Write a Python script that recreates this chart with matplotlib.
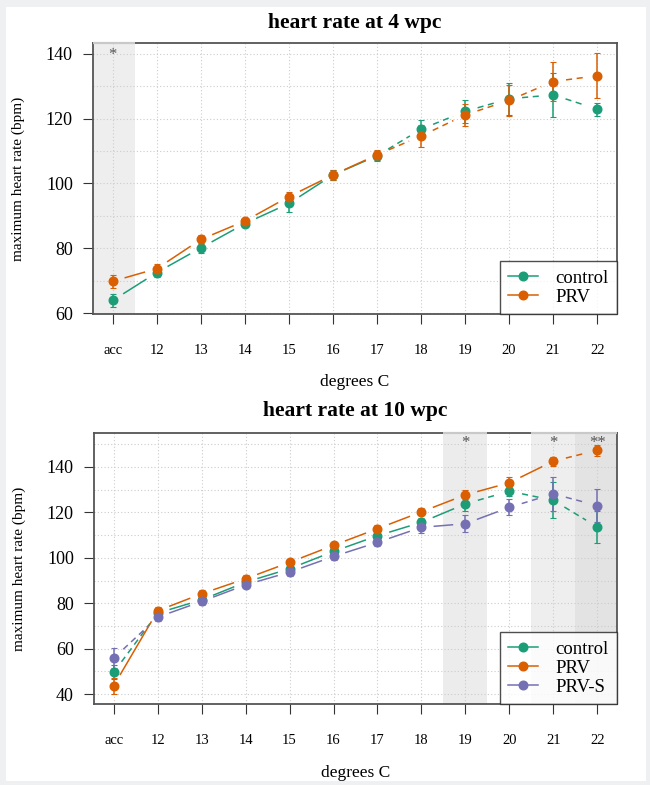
import numpy as np
import matplotlib
matplotlib.use("Agg")
from matplotlib import pyplot as plt
from matplotlib.lines import Line2D
from matplotlib.patches import Rectangle

plt.rcParams['font.family'] = ['Liberation Serif', 'DejaVu Serif']

temps = ["acc", "12", "13", "14", "15", "16", "17", "18", "19", "20", "21", "22"]

# heart rate at 4 wpc
ctrl4 = [63.9, 72.5, 80.1, 87.6, 93.8, 102.6, 108.5, 116.7, 122.2, 126.1, 127.3, 122.9]
ctrl4_err = [2.0, 1.5, 1.5, 1.0, 2.5, 1.5, 1.5, 3.0, 3.6, 5.0, 6.8, 2.0]
prv4 = [69.8, 73.7, 82.7, 88.4, 95.9, 102.6, 108.8, 114.6, 121.1, 125.6, 131.4, 133.2]
prv4_err = [2.0, 1.5, 1.5, 1.0, 1.5, 1.5, 1.5, 3.3, 3.3, 4.8, 6.0, 7.0]
stars4 = {0: "*"}

# heart rate at 10 wpc
ctrl10 = [49.7, 75.7, 81.5, 89.3, 95.2, 102.8, 109.7, 115.6, 123.7, 129.3, 125.3, 113.6]
ctrl10_err = [3.0, 1.5, 1.5, 1.5, 1.5, 1.5, 1.5, 2.0, 3.0, 2.0, 8.0, 7.0]
prv10 = [43.8, 76.7, 84.2, 90.8, 98.0, 105.5, 112.8, 120.2, 127.7, 133.0, 142.5, 147.3]
prv10_err = [3.5, 1.5, 1.5, 1.5, 1.5, 1.5, 1.5, 1.5, 2.0, 2.5, 2.0, 2.5]
prvs10 = [55.9, 73.9, 80.8, 88.1, 93.7, 100.6, 106.8, 113.4, 115.0, 122.2, 128.1, 123.0]
prvs10_err = [4.5, 1.5, 1.5, 1.5, 1.5, 1.5, 1.5, 2.5, 3.8, 3.5, 7.3, 7.3]
stars10 = {8: "*", 10: "*", 11: "**"}

GREEN, ORANGE, PURPLE = "#1b9e77", "#d95f02", "#7570b3"

# segment line styles (solid / dashed) between consecutive points
top_styles = {"control": ["-"] * 6 + ["--"] * 5, "PRV": ["-"] * 6 + ["--"] * 5}
bot_styles = {"control": ["--"] + ["-"] * 7 + ["--"] * 3,
              "PRV": ["-"] * 10 + ["--"],
              "PRV-S": ["--"] + ["-"] * 8 + ["--"] * 2}

W, H = 650, 785
fig = plt.figure(figsize=(W / 100, H / 100), dpi=100, facecolor="#eef0f1")
fig.patches.append(Rectangle((6 / W, 4 / H), 640 / W, 774 / H, transform=fig.transFigure,
                             facecolor="white", edgecolor="none", zorder=-10))

ax1 = fig.add_axes([93 / W, 1 - 314 / H, 524 / W, 271 / H])
ax2 = fig.add_axes([94 / W, 1 - 704 / H, 523 / W, 271 / H])
AX_PX = (524, 271)


def draw_series(ax, y, err, color, styles, gap=13):
    x = np.arange(len(y), dtype=float)
    y = np.asarray(y, dtype=float)
    ax.errorbar(x, y, yerr=err, fmt="none", ecolor=color, elinewidth=1.1,
                capsize=2, capthick=0.8, zorder=3)
    ax.plot(x, y, "o", color=color, ms=6.2, zorder=4)
    # R type="b": leave a gap around each point
    x0, x1 = ax.get_xlim()
    y0, y1 = ax.get_ylim()
    sx = AX_PX[0] / (x1 - x0)
    sy = AX_PX[1] / (y1 - y0)
    for i in range(len(y) - 1):
        dx = (x[i + 1] - x[i]) * sx
        dy = (y[i + 1] - y[i]) * sy
        L = np.hypot(dx, dy)
        if L <= 2 * gap:
            continue
        f = gap / L
        xs = [x[i] + f * (x[i + 1] - x[i]), x[i + 1] - f * (x[i + 1] - x[i])]
        ys = [y[i] + f * (y[i + 1] - y[i]), y[i + 1] - f * (y[i + 1] - y[i])]
        line, = ax.plot(xs, ys, color=color, lw=1.1, zorder=3)
        if styles[i] == "--":
            line.set_dashes([4, 3])


def setup(ax, ylim, yticks, shades):
    ax.set_xlim(-0.45, 11.45)
    ax.set_ylim(*ylim)
    for (x0, x1, c) in shades:
        ax.axvspan(x0, x1, color=c, zorder=0, lw=0)
        # shading drawn over the top border in R
        ax.plot([x0, x1], [ylim[1], ylim[1]], color="#c9c9c9", lw=1.6,
                clip_on=False, zorder=10, solid_capstyle="butt")
    ax.set_xticks(range(len(temps)))
    ax.set_xticklabels(temps, fontsize=10.5)
    ax.set_yticks(yticks)
    ax.set_yticklabels([str(t) for t in yticks], fontsize=13)
    ax.tick_params(axis="x", length=7.5, pad=14, color="#333333")
    ax.tick_params(axis="y", length=7.5, pad=7, color="#333333")
    for yy in np.arange(40, 160, 10):
        ax.axhline(yy, color="#cccccc", ls=(0, (1, 2)), lw=0.8, zorder=1)
    for xx in range(len(temps)):
        ax.axvline(xx, color="#cccccc", ls=(0, (1, 2)), lw=0.8, zorder=1)
    for s in ax.spines.values():
        s.set_color("#555555")
        s.set_linewidth(1.3)
    ax.set_xlabel("degrees C", fontsize=12.5)
    ax.set_ylabel("maximum heart rate (bpm)", fontsize=11)
    ax.yaxis.set_label_coords(-68 / 524, 0.5)


setup(ax1, (59.7, 143.3), [60, 80, 100, 120, 140], [(-0.45, 0.5, "#eeeeee")])
setup(ax2, (35.7, 154.9), [40, 60, 80, 100, 120, 140],
      [(7.5, 8.5, "#ececec"), (9.5, 10.5, "#eeeeee"), (10.5, 11.45, "#e3e3e3")])
ax1.xaxis.set_label_coords(0.5, -(382 - 314) / 271)
ax2.xaxis.set_label_coords(0.5, -(773 - 704) / 271)
for lab in (ax1.xaxis.label, ax2.xaxis.label):
    lab.set_verticalalignment("center")

fig.text(355 / W, 1 - 23 / H, "heart rate at 4 wpc", ha="center", va="center",
         fontsize=15.5, fontweight="bold")
fig.text(355 / W, 1 - 411 / H, "heart rate at 10 wpc", ha="center", va="center",
         fontsize=15.5, fontweight="bold")

draw_series(ax1, ctrl4, ctrl4_err, GREEN, top_styles["control"])
draw_series(ax1, prv4, prv4_err, ORANGE, top_styles["PRV"])
for k, s in stars4.items():
    ax1.text(k, 139.5, s, ha="center", va="center", fontsize=12, color="#555555", zorder=5)

draw_series(ax2, ctrl10, ctrl10_err, GREEN, bot_styles["control"])
draw_series(ax2, prv10, prv10_err, ORANGE, bot_styles["PRV"])
draw_series(ax2, prvs10, prvs10_err, PURPLE, bot_styles["PRV-S"])
for k, s in stars10.items():
    ax2.text(k, 150.5, s, ha="center", va="center", fontsize=12, color="#555555", zorder=5)


def legend(ax, names, colors):
    handles = [Line2D([0], [0], color=c, marker="o", ms=6.2, lw=1.1) for c in colors]
    lg = ax.legend(handles, names, loc="lower right", fontsize=13.5, frameon=True,
                   fancybox=False, borderaxespad=0, handlelength=1.6,
                   handletextpad=0.9, borderpad=0.45, labelspacing=0.1)
    lg.get_frame().set_edgecolor("#222222")
    lg.get_frame().set_linewidth(1.0)
    lg.set_zorder(6)


legend(ax1, ["control", "PRV"], [GREEN, ORANGE])
legend(ax2, ["control", "PRV", "PRV-S"], [GREEN, ORANGE, PURPLE])

fig.savefig("out.png", dpi=100, facecolor=fig.get_facecolor())
